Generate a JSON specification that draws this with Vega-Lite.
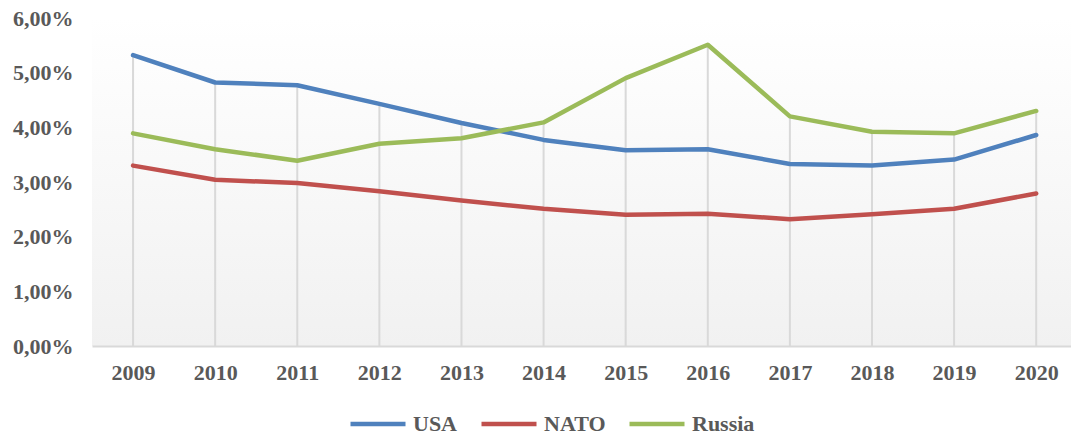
{
  "$schema": "https://vega.github.io/schema/vega-lite/v6.json",
  "width": 979,
  "height": 328,
  "autosize": {"type": "none"},
  "padding": {"left": 92, "top": 18, "right": 0, "bottom": 93},
  "background": "#ffffff",
  "config": {
    "view": {"stroke": null, "fill": {"gradient": "linear", "x1": 0, "y1": 0, "x2": 0, "y2": 1, "stops": [{"offset": 0, "color": "#ffffff"}, {"offset": 1, "color": "#f1f1f1"}]}},
    "font": "Liberation Serif"
  },
  "data": {
    "values": [
      {"year": 2009, "country": "USA", "value": 5.32},
      {"year": 2010, "country": "USA", "value": 4.82},
      {"year": 2011, "country": "USA", "value": 4.77},
      {"year": 2012, "country": "USA", "value": 4.43},
      {"year": 2013, "country": "USA", "value": 4.08},
      {"year": 2014, "country": "USA", "value": 3.77},
      {"year": 2015, "country": "USA", "value": 3.58},
      {"year": 2016, "country": "USA", "value": 3.60},
      {"year": 2017, "country": "USA", "value": 3.33},
      {"year": 2018, "country": "USA", "value": 3.30},
      {"year": 2019, "country": "USA", "value": 3.41},
      {"year": 2020, "country": "USA", "value": 3.86},
      {"year": 2009, "country": "NATO", "value": 3.30},
      {"year": 2010, "country": "NATO", "value": 3.04},
      {"year": 2011, "country": "NATO", "value": 2.98},
      {"year": 2012, "country": "NATO", "value": 2.83},
      {"year": 2013, "country": "NATO", "value": 2.66},
      {"year": 2014, "country": "NATO", "value": 2.51},
      {"year": 2015, "country": "NATO", "value": 2.40},
      {"year": 2016, "country": "NATO", "value": 2.42},
      {"year": 2017, "country": "NATO", "value": 2.32},
      {"year": 2018, "country": "NATO", "value": 2.41},
      {"year": 2019, "country": "NATO", "value": 2.51},
      {"year": 2020, "country": "NATO", "value": 2.79},
      {"year": 2009, "country": "Russia", "value": 3.89},
      {"year": 2010, "country": "Russia", "value": 3.60},
      {"year": 2011, "country": "Russia", "value": 3.39},
      {"year": 2012, "country": "Russia", "value": 3.70},
      {"year": 2013, "country": "Russia", "value": 3.80},
      {"year": 2014, "country": "Russia", "value": 4.09},
      {"year": 2015, "country": "Russia", "value": 4.90},
      {"year": 2016, "country": "Russia", "value": 5.51},
      {"year": 2017, "country": "Russia", "value": 4.20},
      {"year": 2018, "country": "Russia", "value": 3.92},
      {"year": 2019, "country": "Russia", "value": 3.89},
      {"year": 2020, "country": "Russia", "value": 4.30}
    ]
  },
  "layer": [
    {
      "mark": {"type": "rule", "color": "#d9d9d9", "strokeWidth": 2},
      "encoding": {
        "x": {"field": "year", "type": "quantitative"},
        "y": {"aggregate": "max", "field": "value", "type": "quantitative"},
        "y2": {"datum": 0}
      }
    },
    {
      "mark": {"type": "line", "strokeWidth": 4.5, "strokeCap": "round", "strokeJoin": "round"},
      "encoding": {
        "x": {
          "field": "year", "type": "quantitative",
          "scale": {"domain": [2008.5, 2020.424], "nice": false, "zero": false},
          "axis": {
            "title": null, "values": [2009, 2010, 2011, 2012, 2013, 2014, 2015, 2016, 2017, 2018, 2019, 2020],
            "format": "d", "grid": false, "ticks": false,
            "domainColor": "#d9d9d9", "domainWidth": 2,
            "labelFont": "Liberation Serif", "labelFontWeight": "bold", "labelFontSize": 22,
            "labelColor": "#595959", "labelPadding": 16, "labelFlush": false, "labelOverlap": false
          }
        },
        "y": {
          "field": "value", "type": "quantitative",
          "scale": {"domain": [0, 6], "nice": false},
          "axis": {
            "title": null, "values": [0, 1, 2, 3, 4, 5, 6],
            "labelExpr": "replace(format(datum.value, '.2f'), '.', ',') + '%'",
            "grid": false, "ticks": false, "domain": false,
            "labelFont": "Liberation Serif", "labelFontWeight": "bold", "labelFontSize": 22,
            "labelColor": "#595959", "labelPadding": 19
          }
        },
        "color": {
          "field": "country", "type": "nominal",
          "scale": {"domain": ["USA", "NATO", "Russia"], "range": ["#4f81bd", "#c0504d", "#9bbb59"]},
          "legend": {
            "title": null, "orient": "none", "legendX": 256, "legendY": 376, "direction": "horizontal",
            "symbolType": "stroke", "symbolSize": 3025, "symbolStrokeWidth": 4.5,
            "labelFont": "Liberation Serif", "labelFontWeight": "bold", "labelFontSize": 22,
            "labelColor": "#595959", "columnPadding": 14, "labelOffset": 5
          }
        }
      }
    }
  ]
}
